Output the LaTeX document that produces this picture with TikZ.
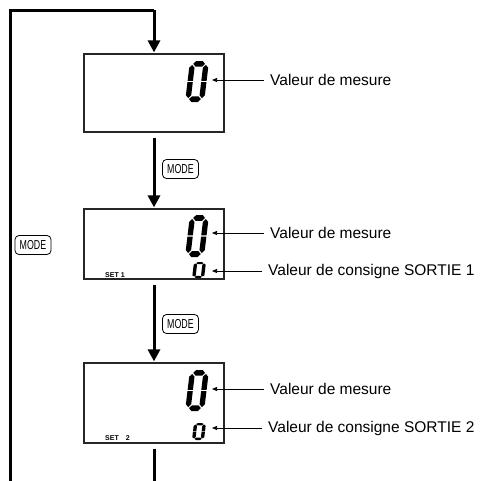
\documentclass[tikz,border=0pt]{standalone}
\usepackage{fontspec}
\usepackage{graphicx}
\setmainfont{Liberation Sans}
\usetikzlibrary{arrows.meta}
\newcommand\lcdzero[4]{%
  \begin{scope}[shift={(#1,#2)}, xslant=0.12, xscale=#3, yscale=#4/2]
    \fill (0.19,0.14)--(0.33,0)--(0.67,0)--(0.81,0.14)--(0.67,0.28)--(0.33,0.28)--cycle;
    \fill (0.19,1.86)--(0.33,1.72)--(0.67,1.72)--(0.81,1.86)--(0.67,2)--(0.33,2)--cycle;
    \fill (0.14,0.19)--(0.28,0.33)--(0.28,0.97)--(0,0.97)--(0,0.33)--cycle;
    \fill (0,1.03)--(0.28,1.03)--(0.28,1.67)--(0.14,1.81)--(0,1.67)--cycle;
    \fill (0.86,0.19)--(1,0.33)--(1,0.97)--(0.72,0.97)--(0.72,0.33)--cycle;
    \fill (0.72,1.03)--(1,1.03)--(1,1.67)--(0.86,1.81)--(0.72,1.67)--cycle;
  \end{scope}}
\tikzset{
  lcd/.style={draw=black!85, line width=1.2pt, minimum width=140pt, inner sep=0pt},
  flow/.style={line width=3pt, -{Triangle[width=12pt,length=12pt]}},
  loopline/.style={line width=3pt},
  modebtn/.style={draw, line width=0.8pt, rounded corners=4pt, minimum width=36pt, minimum height=19pt, inner sep=0pt, font=\fontsize{13}{13}\selectfont},
  lbl/.style={anchor=west, inner sep=2pt, font=\fontsize{15.5}{18}\selectfont},
  ptr/.style={line width=0.7pt, -{Triangle[width=4pt,length=5pt]}},
  settxt/.style={anchor=base west, inner sep=0pt, font=\fontsize{7}{8}\selectfont\bfseries}
}
\begin{document}
\begin{tikzpicture}[x=1pt,y=-1pt]
\useasboundingbox (0,0) rectangle (487,480);
\clip (0,0) rectangle (487,480);
% LCD boxes
\node[lcd, minimum height=78pt] (d1) at (154,93) {};
\node[lcd, minimum height=70pt] (d2) at (154,244) {};
\node[lcd, minimum height=80pt] (d3) at (154,403) {};
% digits
\lcdzero{190}{61}{19}{41}
\lcdzero{190}{215}{19}{42}
\lcdzero{194}{262}{12}{16}
\lcdzero{190}{370}{19}{41}
\lcdzero{194}{423}{12}{17}
% SET labels
\node[settxt] (s1) at (105,277) {SET 1};
\node[settxt] (s2) at (105,440) {SET\hspace{7pt}2};
% MODE buttons
\node[modebtn] (m1) at (180.5,169) {\scalebox{0.68}[1]{MODE}};
\node[modebtn] (m2) at (180.5,324) {\scalebox{0.68}[1]{MODE}};
\node[modebtn] (m0) at (33,245) {\scalebox{0.68}[1]{MODE}};
% flow arrows
\draw[flow, shorten <=5pt, shorten >=1pt] (d1.south) -- (d2.north);
\draw[flow, shorten <=5pt, shorten >=1pt] (d2.south) -- (d3.north);
\coordinate (b1) at (154,495);
\coordinate (b2) at (10,495);
\coordinate (c1) at (10,10);
\coordinate (c2) at (154,10);
\draw[loopline, shorten <=5pt] (d3.south) -- (b1);
\draw[loopline] (b1) -- (b2) -- (c1) -- (c2);
\draw[flow, shorten >=1pt] (c2) -- (d1.north);
% pointer labels
\coordinate (t1) at (212,80);
\coordinate (t2) at (212,233);
\coordinate (t3) at (212,271);
\coordinate (t4) at (212,389);
\coordinate (t5) at (212,428);
\node[lbl] (l1) at (268,80) {Valeur de mesure};
\node[lbl] (l2) at (268,233) {Valeur de mesure};
\node[lbl] (l3) at (266,271) {Valeur de consigne SORTIE 1};
\node[lbl] (l4) at (268,389) {Valeur de mesure};
\node[lbl] (l5) at (266,428) {Valeur de consigne SORTIE 2};
\draw[ptr, shorten <=4pt] (l1.west) -- (t1);
\draw[ptr, shorten <=4pt] (l2.west) -- (t2);
\draw[ptr, shorten <=4pt] (l3.west) -- (t3);
\draw[ptr, shorten <=4pt] (l4.west) -- (t4);
\draw[ptr, shorten <=4pt] (l5.west) -- (t5);
\end{tikzpicture}
\end{document}
